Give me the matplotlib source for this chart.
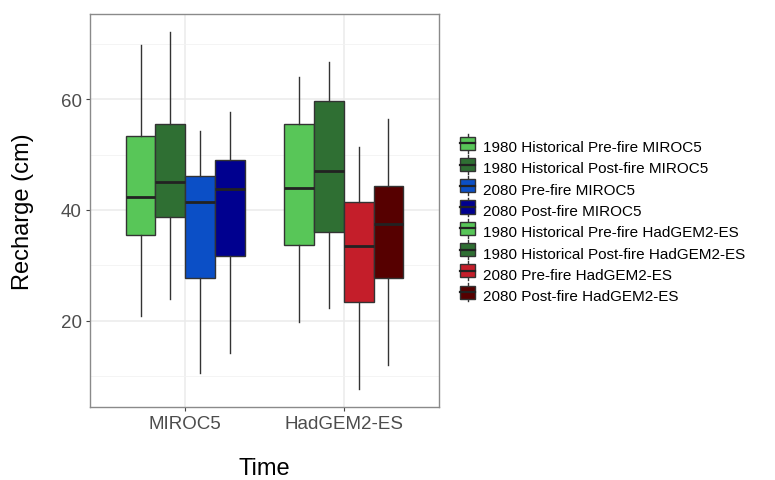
import matplotlib
matplotlib.use("Agg")
import matplotlib.pyplot as plt
from matplotlib.legend_handler import HandlerBase
from matplotlib.patches import Rectangle
from matplotlib.lines import Line2D

plt.rcParams['font.family'] = ['Liberation Sans', 'DejaVu Sans']

models = ['MIROC5', 'HadGEM2-ES']
series = ['1980 Historical Pre-fire MIROC5', '1980 Historical Post-fire MIROC5',
          '2080 Pre-fire MIROC5', '2080 Post-fire MIROC5',
          '1980 Historical Pre-fire HadGEM2-ES', '1980 Historical Post-fire HadGEM2-ES',
          '2080 Pre-fire HadGEM2-ES', '2080 Post-fire HadGEM2-ES']
colors = ['#58C658', '#2F6F33', '#0B4FC6', '#00008F',
          '#58C658', '#2F6F33', '#C41E2A', '#560000']

# box stats, 4 boxes per model (same order as series)
whislo = [20.9, 23.9, 10.6, 14.1, 19.7, 22.3, 7.6, 11.9]
q1 = [35.4, 38.7, 27.7, 31.6, 33.6, 36.0, 23.4, 27.7]
med = [42.4, 45.0, 41.5, 43.7, 44.0, 47.0, 33.5, 37.5]
q3 = [53.4, 55.5, 46.2, 49.0, 55.5, 59.7, 41.5, 44.4]
whishi = [69.8, 72.1, 54.2, 57.7, 64.1, 66.7, 51.3, 56.5]

fig = plt.figure(figsize=(7.75, 4.81), dpi=100)
ax = fig.add_axes([0.1161, 0.1518, 0.4503, 0.817])

w = 0.75 / 4
offsets = [-1.5 * w, -0.5 * w, 0.5 * w, 1.5 * w]
stats, pos = [], []
for i in range(len(series)):
    g = i // 4
    stats.append(dict(whislo=whislo[i], q1=q1[i], med=med[i], q3=q3[i],
                      whishi=whishi[i], fliers=[]))
    pos.append(g + 1 + offsets[i % 4])

edge = '#333333'
bp = ax.bxp(stats, positions=pos, widths=w, patch_artist=True, showcaps=False,
            boxprops=dict(edgecolor=edge, linewidth=1.0),
            whiskerprops=dict(color=edge, linewidth=1.0),
            medianprops=dict(color='#222222', linewidth=2.0),
            zorder=3)
for patch, c in zip(bp['boxes'], colors):
    patch.set_facecolor(c)

ax.set_xlim(0.4, 2.6)
ax.set_ylim(4.4, 75.4)
ax.set_xticks([1, 2])
ax.set_xticklabels(models)
ax.set_yticks([20, 40, 60])
ax.set_yticks([10, 30, 50, 70], minor=True)
ax.grid(which='major', color='#EBEBEB', linewidth=1.1, zorder=0)
ax.grid(which='minor', axis='y', color='#F2F2F2', linewidth=0.6, zorder=0)
ax.set_axisbelow(True)
for s in ax.spines.values():
    s.set_color('#8A8A8A')
    s.set_linewidth(1.0)
ax.tick_params(which='major', length=3, color='#444444', labelsize=13.5,
               labelcolor='#4D4D4D', pad=3)
ax.tick_params(which='minor', length=0)
ax.set_xlabel('Time', fontsize=17, labelpad=18)
ax.set_ylabel('Recharge (cm)', fontsize=17, labelpad=19)


class BoxKey(HandlerBase):
    def create_artists(self, legend, orig, xd, yd, width, height, fontsize, trans):
        cx = xd + width / 2
        line = Line2D([cx, cx], [yd - 2, yd + height + 2], color=edge, lw=1.0,
                      transform=trans)
        rect = Rectangle((xd, yd), width, height, facecolor=orig.get_facecolor(),
                         edgecolor=edge, lw=1.0, transform=trans)
        mline = Line2D([xd, xd + width], [yd + height / 2] * 2, color='#222222',
                       lw=1.6, transform=trans)
        return [line, rect, mline]


handles = [Rectangle((0, 0), 1, 1, facecolor=c) for c in colors]
fig.legend(handles, series, handler_map={Rectangle: BoxKey()},
           loc='center left', bbox_to_anchor=(0.576, 0.538), frameon=False,
           fontsize=11.0, handlelength=1.0, handleheight=0.95,
           handletextpad=0.5, labelspacing=0.42)

fig.savefig('out.png', dpi=100)
